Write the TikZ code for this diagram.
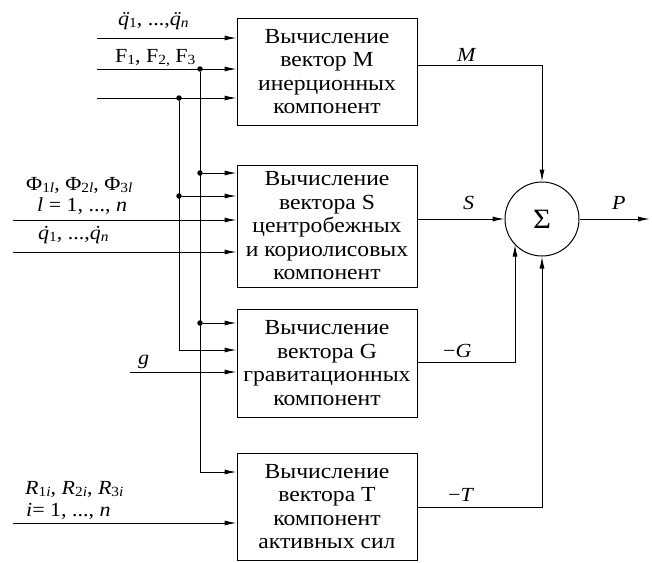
\documentclass[tikz,border=0pt]{standalone}
\usepackage{fontspec}
\setmainfont[FakeStretch=1.1]{Liberation Serif}
\usetikzlibrary{arrows.meta}
\newcommand\sbs[1]{\raisebox{-0.3ex}{\fontsize{14}{14}\selectfont #1}}
\newcommand\qacc[1]{\leavevmode\setbox0\hbox{\textit{q}}\rlap{\hbox to\wd0{\hss\kern0.14em\textit{#1}\hss}}\box0}
\begin{document}
\begin{tikzpicture}[x=1pt,y=-1pt,
  blk/.style={draw,line width=1pt,minimum width=180pt,inner sep=0pt,align=center,
    font=\fontsize{21.5}{23.5}\selectfont},
  arr/.style={line width=1pt,-{Latex[length=12pt,width=5pt]}},
  ln/.style={line width=1pt},
  dotn/.style={circle,fill,inner sep=0pt,minimum size=5.5pt},
  lbl/.style={font=\fontsize{20}{22}\selectfont,inner sep=0pt,anchor=base west}]
\useasboundingbox (0,0) rectangle (652,562);
% blocks
\node[blk,minimum height=107pt] (b1) at (327,71.5) {Вычисление\\вектор M\\инерционных\\компонент};
\node[blk,minimum height=122pt] (b2) at (327,226) {Вычисление\\вектора S\\центробежных\\и кориолисовых\\компонент};
\node[blk,minimum height=108pt] (b3) at (327,363) {Вычисление\\вектора G\\гравитационных\\компонент};
\node[blk,minimum height=107pt] (b4) at (327,506.5) {Вычисление\\вектора T\\компонент\\активных сил};
\node[draw,circle,line width=1pt,minimum size=74pt,inner sep=0pt,font=\fontsize{28}{30}\selectfont] (sum) at (542,219) {Σ};
% free ends
\coordinate (i1) at (97,38);
\coordinate (i2) at (97,69);
\coordinate (i3) at (97,98);
\coordinate (i4) at (13,220);
\coordinate (i5) at (13,252);
\coordinate (i6) at (130,372);
\coordinate (i7) at (13,523);
\coordinate (out) at (650,219);
\coordinate (cM) at (542,65);
\coordinate (cg) at (515,362);
\coordinate (cT) at (542,507);
% junctions
\node[dotn] (jA) at (200,69) {};
\node[dotn] (jB) at (179,98) {};
\node[dotn] (jC) at (200,173) {};
\node[dotn] (jD) at (179,196) {};
\node[dotn] (jE) at (200,323) {};
\coordinate (cF) at (179,350);
\coordinate (cG) at (200,472);
% inputs to b1
\draw[arr] (i1) -- (i1 -| b1.west);
\draw[arr] (i2) -- (i2 -| b1.west);
\draw[arr] (i3) -- (i3 -| b1.west);
% verticals
\draw[ln] (jA) -- (cG);
\draw[ln] (jB) -- (cF);
% inputs to b2
\draw[arr] (jC) -- (jC -| b2.west);
\draw[arr] (jD) -- (jD -| b2.west);
\draw[arr] (i4) -- (i4 -| b2.west);
\draw[arr] (i5) -- (i5 -| b2.west);
% inputs to b3
\draw[arr] (jE) -- (jE -| b3.west);
\draw[arr] (cF) -- (cF -| b3.west);
\draw[arr] (i6) -- (i6 -| b3.west);
% inputs to b4
\draw[arr] (cG) -- (cG -| b4.west);
\draw[arr] (i7) -- (i7 -| b4.west);
% outputs
\draw[arr] (cM -| b1.east) -- (cM) -- (sum.north);
\draw[arr] (b2.east |- sum.west) -- (sum.west);
\draw[arr] (cg -| b3.east) -- (cg) -- (cg |- sum.-137);
\draw[arr] (cT -| b4.east) -- (cT) -- (sum.south);
\draw[arr] (sum.east) -- (out);
% labels
\node[lbl] at (118,25) {\qacc{¨}\sbs{1}, ...,\qacc{¨}\sbs{\textit{n}}};
\node[lbl] at (115,62) {F\sbs{1}, F\sbs{2,} F\sbs{3}};
\node[lbl] at (26,190) {Φ\sbs{1\textit{l}}, Φ\sbs{2\textit{l}}, Φ\sbs{3\textit{l}}};
\node[lbl] at (37,211) {\textit{l} = 1, ..., \textit{n}};
\node[lbl] at (38,239) {\qacc{˙}\sbs{1}, ...,\qacc{˙}\sbs{\textit{n}}};
\node[lbl] at (138,364) {\textit{g}};
\node[lbl] at (25,494) {\textit{R}\sbs{1\textit{i}}, \textit{R}\sbs{2\textit{i}}, \textit{R}\sbs{3\textit{i}}};
\node[lbl] at (26,516) {\textit{i}= 1, ..., \textit{n}};
\node[lbl] at (457,61) {\textit{M}};
\node[lbl] at (463,209) {\textit{S}};
\node[lbl] at (443,357) {−\textit{G}};
\node[lbl] at (448,501) {−\textit{T}};
\node[lbl] at (612,209) {\textit{P}};
\end{tikzpicture}
\end{document}
